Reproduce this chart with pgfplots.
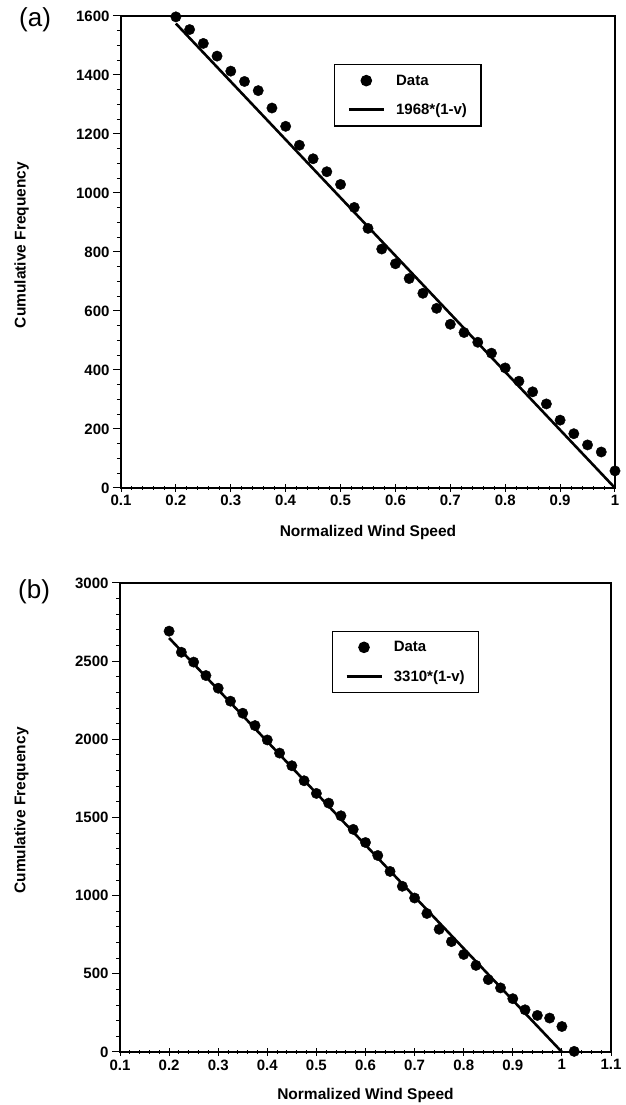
\documentclass[border=0pt]{standalone}
\usepackage{fontspec}
\setmainfont{Liberation Sans}
\usepackage{pgfplots}
\usepackage{pgfplotstable}
\pgfplotsset{compat=1.18}

\pgfplotstableread{
v f
0.2 1597
0.225 1554
0.25 1507
0.275 1464
0.3 1413
0.325 1378
0.35 1347
0.375 1288
0.4 1226
0.425 1162
0.45 1116
0.475 1072
0.5 1029
0.525 951
0.55 880
0.575 810
0.6 760
0.625 710
0.65 660
0.675 609
0.7 555
0.725 527
0.75 494
0.775 457
0.8 407
0.825 362
0.85 326
0.875 285
0.9 230
0.925 184
0.95 146
0.975 122
1.0 58
}\dataA

\pgfplotstableread{
v f
0.2 2692
0.225 2557
0.25 2494
0.275 2408
0.3 2327
0.325 2244
0.35 2167
0.375 2088
0.4 1996
0.425 1912
0.45 1831
0.475 1735
0.5 1654
0.525 1592
0.55 1511
0.575 1424
0.6 1340
0.625 1257
0.65 1155
0.675 1060
0.7 985
0.725 886
0.75 785
0.775 706
0.8 624
0.825 554
0.85 463
0.875 410
0.9 341
0.925 270
0.95 234
0.975 217
1.0 163
1.025 4
}\dataB

\pgfplotsset{
  panel/.style={
    scale only axis,
    clip=false,
    axis line style={line width=1.2pt},
    every tick/.style={black, line width=1pt},
    major tick length=8pt, minor tick length=4pt,
    ytick align=outside, xtick align=center,
    xtick pos=bottom, ytick pos=left,
    ticklabel style={font=\bfseries\fontsize{15}{17}\selectfont},
    /pgf/number format/assume math mode=true,
    /pgf/number format/1000 sep={},
    xticklabel style={/pgf/number format/fixed, /pgf/number format/precision=1},
    label style={font=\bfseries\fontsize{15.5}{18}\selectfont},
    xlabel={Normalized Wind Speed}, ylabel={Cumulative Frequency},
    xlabel style={at={(axis description cs:0.5,-0.102)}, anchor=base},
    ylabel style={at={(axis description cs:-0.201,0.515)}, anchor=center},
    minor x tick num=4,
    legend style={at={(rel axis cs:0.431,0.898)}, anchor=north west, draw=black, line width=1.2pt,
      font=\bfseries\fontsize{15}{17}\selectfont, row sep=15pt, inner xsep=13pt, inner ysep=9pt,
      nodes={inner sep=1pt}, /tikz/every odd column/.append style={column sep=10pt}},
    legend cell align=left,
  },
  datastyle/.style={black, only marks, mark=*, mark size=5.2pt, mark options={fill=black, draw=black},
    legend image code/.code={\draw[mark repeat=2,mark phase=2,##1] plot coordinates {(0pt,0pt) (17.5pt,0pt) (35pt,0pt)};}},
  fitstyle/.style={black, line width=2.6pt, no marks,
    legend image code/.code={\draw[##1] (0pt,0pt) -- (35pt,0pt);}},
}

\begin{document}
\begin{tikzpicture}
\useasboundingbox (0,0) rectangle (626pt,1105pt);
\begin{axis}[panel, at={(121pt,617pt)}, anchor=south west, width=494pt, height=472pt,
  xmin=0.1, xmax=1, ymin=0, ymax=1600,
  xtick={0.1,0.2,0.3,0.4,0.5,0.6,0.7,0.8,0.9,1},
  ytick={0,200,400,600,800,1000,1200,1400,1600}, minor y tick num=3]
\addplot[datastyle] table[x=v,y=f] {\dataA};
\addlegendentry{Data}
\addplot[fitstyle] coordinates {(0.2,1574.4) (1,0)};
\addlegendentry{1968*(1-v)}
\node[font=\fontsize{26}{26}\selectfont] at (axis description cs:-0.174,0.991) {(a)};
\end{axis}
\begin{axis}[panel, at={(120pt,53pt)}, anchor=south west, width=491pt, height=469pt,
  xmin=0.1, xmax=1.1, ymin=0, ymax=3000,
  xtick={0.1,0.2,0.3,0.4,0.5,0.6,0.7,0.8,0.9,1,1.1},
  ytick={0,500,1000,1500,2000,2500,3000}, minor y tick num=4]
\addplot[datastyle] table[x=v,y=f] {\dataB};
\addlegendentry{Data}
\addplot[fitstyle] coordinates {(0.2,2648) (1,0)};
\addlegendentry{3310*(1-v)}
\node[font=\fontsize{26}{26}\selectfont] at (axis description cs:-0.175,0.981) {(b)};
\end{axis}
\end{tikzpicture}
\end{document}
